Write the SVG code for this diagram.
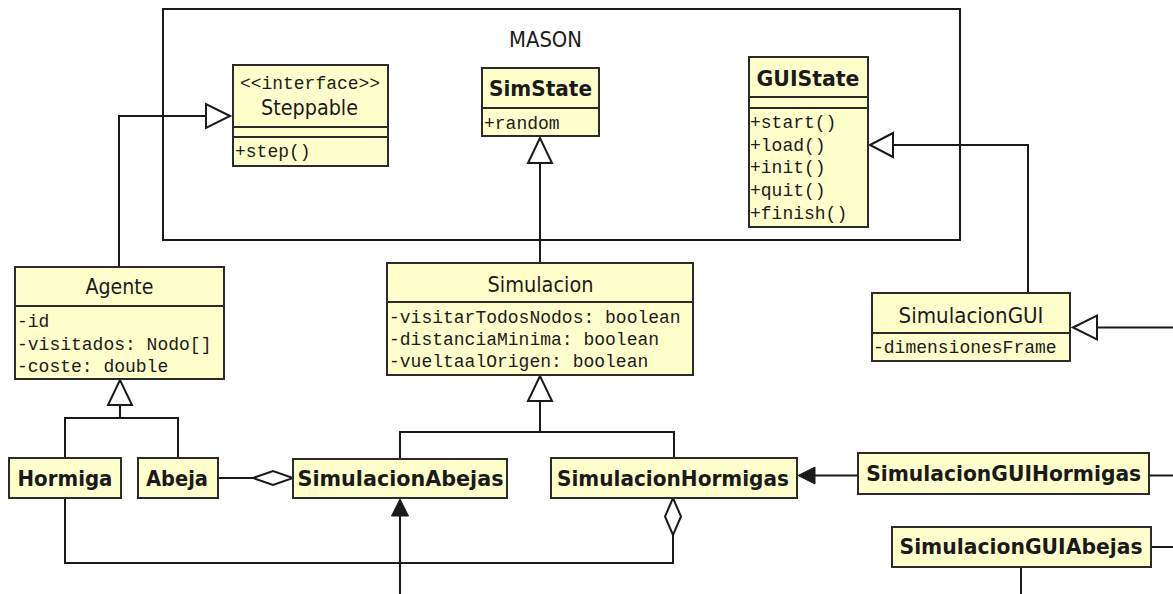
<svg xmlns="http://www.w3.org/2000/svg" width="1173" height="594" viewBox="0 0 1173 594">
  <style>
    .box { fill: #ffffcc; stroke: #2b2b2b; stroke-width: 2; }
    .sep { stroke: #2b2b2b; stroke-width: 2; }
    .name { font-family: "DejaVu Sans", "Liberation Sans", sans-serif; font-size: 21px; fill: #1a1a1a; text-anchor: middle; }
    .bold { font-weight: bold; }
    .mono { font-family: "Liberation Mono", "DejaVu Sans Mono", monospace; font-size: 18px; fill: #1a1a1a; }
    .edge { fill: none; stroke: #1a1a1a; stroke-width: 2; }
    .hollow { fill: #ffffff; stroke: #1a1a1a; stroke-width: 2; }
    .solid { fill: #1a1a1a; stroke: #1a1a1a; stroke-width: 1; }
  </style>

  <rect width="1173" height="594" fill="#ffffff"/>

  <!-- MASON package frame -->
  <g id="mason">
    <rect x="163" y="9" width="797" height="231" fill="none" stroke="#1a1a1a" stroke-width="2"/>
    <text class="name" x="545.5" y="46.5" textLength="73" lengthAdjust="spacingAndGlyphs">MASON</text>
  </g>

  <!-- Connectors -->
  <g id="connectors">
    <!-- Agente realizes Steppable -->
    <path class="edge" d="M119,267 V116 H206"/>
    <polygon class="hollow" points="230,116 206,104 206,128"/>
    <!-- Simulacion extends SimState -->
    <path class="edge" d="M540,263 V163"/>
    <polygon class="hollow" points="540,138 528,163 552,163"/>
    <!-- SimulacionGUI extends GUIState -->
    <path class="edge" d="M1028,293 V145 H893"/>
    <polygon class="hollow" points="870,145 893,133 893,157"/>
    <!-- subclass of SimulacionGUI (continues right) -->
    <path class="edge" d="M1173,327.5 H1097"/>
    <polygon class="hollow" points="1073,327.5 1097,315.5 1097,339.5"/>
    <!-- Hormiga, Abeja extend Agente -->
    <polygon class="hollow" points="120,380 108,405 132,405"/>
    <path class="edge" d="M120,405 V418 M65,458 V418 H178 V458"/>
    <!-- Abeja aggregated by SimulacionAbejas -->
    <path class="edge" d="M218,478 H253"/>
    <polygon class="hollow" points="253,478 273,471 293,478 273,485"/>
    <!-- SimulacionAbejas, SimulacionHormigas extend Simulacion -->
    <polygon class="hollow" points="540,376 528,401 552,401"/>
    <path class="edge" d="M540,401 V432 M400,459 V432 H674 V458"/>
    <!-- Hormiga aggregated by SimulacionHormigas -->
    <path class="edge" d="M65,498 V563 H673 V535"/>
    <polygon class="hollow" points="673,498 665,516.5 673,535 681,516.5"/>
    <!-- association into SimulacionAbejas -->
    <path class="edge" d="M400,594 V514"/>
    <polygon class="solid" points="400,499 391.5,516 408.5,516"/>
    <!-- SimulacionGUIHormigas uses SimulacionHormigas -->
    <path class="edge" d="M858,475.5 H814"/>
    <polygon class="solid" points="798,475.5 815,467 815,484"/>
    <!-- links leaving to the right / below -->
    <path class="edge" d="M1149,475.5 H1173"/>
    <path class="edge" d="M1151,547 H1173"/>
    <path class="edge" d="M1021,567 V594"/>
  </g>

  <!-- Steppable interface -->
  <g id="steppable">
    <rect class="box" x="233" y="65" width="155" height="101"/>
    <line class="sep" x1="233" y1="127" x2="388" y2="127"/>
    <line class="sep" x1="233" y1="137" x2="388" y2="137"/>
    <text class="mono" x="240" y="89" textLength="140" lengthAdjust="spacingAndGlyphs">&lt;&lt;interface&gt;&gt;</text>
    <text class="name" x="309.5" y="115" textLength="97" lengthAdjust="spacingAndGlyphs">Steppable</text>
    <text class="mono" x="235" y="157">+step()</text>
  </g>

  <!-- SimState -->
  <g id="simstate">
    <rect class="box" x="482" y="68" width="117" height="68"/>
    <line class="sep" x1="482" y1="108" x2="599" y2="108"/>
    <text class="name bold" x="540.5" y="96" textLength="103" lengthAdjust="spacingAndGlyphs">SimState</text>
    <text class="mono" x="484" y="129">+random</text>
  </g>

  <!-- GUIState -->
  <g id="guistate">
    <rect class="box" x="749" y="57" width="119" height="170"/>
    <line class="sep" x1="749" y1="97" x2="868" y2="97"/>
    <line class="sep" x1="749" y1="108" x2="868" y2="108"/>
    <text class="name bold" x="808" y="86" textLength="103" lengthAdjust="spacingAndGlyphs">GUIState</text>
    <text class="mono" x="750" y="128">+start()</text>
    <text class="mono" x="750" y="150.7">+load()</text>
    <text class="mono" x="750" y="173.3">+init()</text>
    <text class="mono" x="750" y="196">+quit()</text>
    <text class="mono" x="750" y="218.7">+finish()</text>
  </g>

  <!-- Agente -->
  <g id="agente">
    <rect class="box" x="15" y="267" width="209" height="112"/>
    <line class="sep" x1="15" y1="306" x2="224" y2="306"/>
    <text class="name" x="119.5" y="294" textLength="68" lengthAdjust="spacingAndGlyphs">Agente</text>
    <text class="mono" x="17" y="327">-id</text>
    <text class="mono" x="17" y="349.5">-visitados: Nodo[]</text>
    <text class="mono" x="17" y="372">-coste: double</text>
  </g>

  <!-- Simulacion -->
  <g id="simulacion">
    <rect class="box" x="387" y="263" width="306" height="112"/>
    <line class="sep" x1="387" y1="302" x2="693" y2="302"/>
    <text class="name" x="540.5" y="292" textLength="106" lengthAdjust="spacingAndGlyphs">Simulacion</text>
    <text class="mono" x="389" y="323">-visitarTodosNodos: boolean</text>
    <text class="mono" x="389" y="345">-distanciaMinima: boolean</text>
    <text class="mono" x="389" y="366.5">-vueltaalOrigen: boolean</text>
  </g>

  <!-- SimulacionGUI -->
  <g id="simulaciongui">
    <rect class="box" x="872" y="293" width="198" height="68"/>
    <line class="sep" x1="872" y1="333" x2="1070" y2="333"/>
    <text class="name" x="971" y="323" textLength="145" lengthAdjust="spacingAndGlyphs">SimulacionGUI</text>
    <text class="mono" x="873" y="353">-dimensionesFrame</text>
  </g>

  <!-- Hormiga -->
  <g id="hormiga">
    <rect class="box" x="9" y="458" width="112" height="40"/>
    <text class="name bold" x="65" y="486" textLength="95" lengthAdjust="spacingAndGlyphs">Hormiga</text>
  </g>

  <!-- Abeja -->
  <g id="abeja">
    <rect class="box" x="138" y="458" width="80" height="40"/>
    <text class="name bold" x="177" y="486" textLength="62" lengthAdjust="spacingAndGlyphs">Abeja</text>
  </g>

  <!-- SimulacionAbejas -->
  <g id="simulacionabejas">
    <rect class="box" x="293" y="459" width="214" height="39"/>
    <text class="name bold" x="400.5" y="486" textLength="206" lengthAdjust="spacingAndGlyphs">SimulacionAbejas</text>
  </g>

  <!-- SimulacionHormigas -->
  <g id="simulacionhormigas">
    <rect class="box" x="551" y="458" width="246" height="40"/>
    <text class="name bold" x="673" y="486" textLength="232" lengthAdjust="spacingAndGlyphs">SimulacionHormigas</text>
  </g>

  <!-- SimulacionGUIHormigas -->
  <g id="simulacionguihormigas">
    <rect class="box" x="858" y="453" width="291" height="41"/>
    <text class="name bold" x="1003.7" y="481" textLength="275" lengthAdjust="spacingAndGlyphs">SimulacionGUIHormigas</text>
  </g>

  <!-- SimulacionGUIAbejas -->
  <g id="simulacionguiabejas">
    <rect class="box" x="892" y="527" width="259" height="40"/>
    <text class="name bold" x="1021" y="554" textLength="243" lengthAdjust="spacingAndGlyphs">SimulacionGUIAbejas</text>
  </g>
</svg>
